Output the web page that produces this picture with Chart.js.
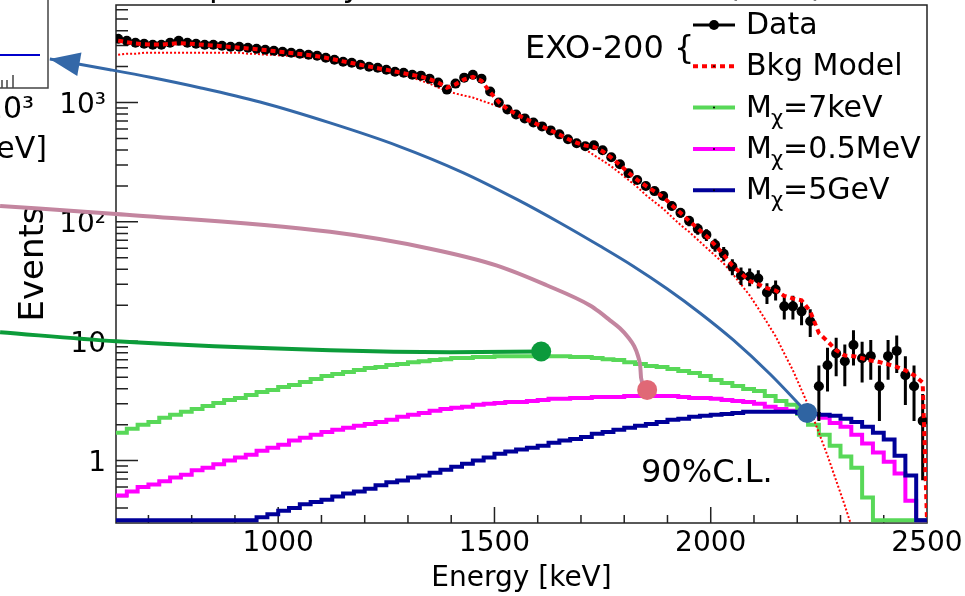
<!DOCTYPE html>
<html>
<head>
<meta charset="utf-8">
<script src="https://cdn.jsdelivr.net/npm/chart.js@4.4.1/dist/chart.umd.min.js"></script>
<style>
  html, body { margin: 0; padding: 0; background: #fff; }
</style>
</head>
<body>
<canvas id="chart" width="965" height="596"></canvas>
<script>
const FONT = "'DejaVu Sans'"

// axis ranges
const xMin = 625, xMax = 2500
const yMin = 0.316, yMax = 6561
const xTickValues = [1000, 1500, 2000, 2500]
const yTickValues = [1, 10, 100, 1000]
const yTickLabels = ['1', '10', '10²', '10³']

// measured spectrum, 20 keV bins (first centre 630 keV)
const dataStart = 630, dataStep = 20
const dataCounts = [
  3415, 3286, 3162, 3102, 3043, 3043, 3162, 3286, 3162, 3102,
  3043, 3043, 2985, 2929, 2929, 2873, 2818, 2765, 2712, 2661,
  2610, 2561, 2512, 2464, 2371, 2282, 2196, 2154, 2073, 1995,
  1957, 1884, 1813, 1778, 1711, 1679, 1585, 1468, 1283, 1440,
  1616, 1711, 1585, 1235, 1000, 874, 794, 736, 681, 631,
  584, 541, 492, 455, 430, 438, 398, 348, 304, 256,
  224, 200, 181, 165, 136, 119, 102, 87.4, 77.9, 64.3,
  54.1, 42.2, 35.5, 34.8, 33.5, 25.6, 27.1, 19.6, 19.6, 17.8,
  14.7, 4.2, 6.3, 7.9, 6.8, 9.3, 7.2, 7.5, 4.2, 7.5,
  8.3, 5.2, 4.2, 2.15
]
const bkgModel = [
  3300, 3200, 3120, 3080, 3060, 3060, 3100, 3150, 3120, 3080,
  3040, 3000, 2960, 2920, 2880, 2840, 2800, 2750, 2700, 2650,
  2600, 2550, 2500, 2440, 2370, 2290, 2210, 2140, 2070, 2000,
  1940, 1880, 1820, 1760, 1700, 1650, 1570, 1470, 1330, 1420,
  1560, 1640, 1520, 1220, 1010, 880, 800, 735, 680, 630,
  585, 540, 495, 460, 435, 425, 390, 345, 300, 258,
  225, 200, 180, 162, 138, 119, 102, 88, 76, 64,
  53, 43, 37, 32, 30, 27.8, 26.6, 24, 22.8, 22,
  17.8, 11.7, 10, 8.4, 7.6, 7.5, 7.2, 6.9, 6.7, 6.4,
  6.1, 5.7, 5.2, 4.5
]
const bkgComponent = [
  2512, 2561, 2561, 2610, 2610, 2610, 2610, 2610, 2610, 2610,
  2610, 2610, 2610, 2610, 2610, 2561, 2561, 2512, 2512, 2464,
  2464, 2417, 2371, 2326, 2282, 2239, 2154, 2113, 2035, 1957,
  1884, 1813, 1745, 1679, 1616, 1525, 1440, 1334, 1259, 1188,
  1143, 1100, 1038, 980, 925, 857, 794, 736, 681, 631,
  584, 541, 492, 447, 405, 362, 326, 292, 256, 224,
  196, 168, 147, 129, 110, 94.4, 82.5, 70.8, 60.8, 52.2,
  44.8, 37.0, 29.9, 24.2, 18.8, 14.4, 11.0, 7.9, 5.7, 3.9,
  2.66, 1.71, 1.10, 0.68, 0.42, 0.25
]

// signal spectra at 90% C.L., 25 keV bins from 625 keV
const histStart = 625, histStep = 25
const sig7keV = [
  1.71, 1.85, 2.00, 2.11, 2.28, 2.42, 2.56, 2.71, 2.87, 3.04,
  3.22, 3.35, 3.55, 3.76, 3.91, 4.14, 4.30, 4.55, 4.82, 5.11,
  5.31, 5.52, 5.73, 5.96, 6.07, 6.31, 6.43, 6.68, 6.81, 6.95,
  7.08, 7.22, 7.22, 7.36, 7.36, 7.50, 7.50, 7.50, 7.50, 7.50,
  7.50, 7.50, 7.36, 7.36, 7.22, 7.08, 6.95, 6.68, 6.43, 6.19,
  6.07, 5.84, 5.62, 5.41, 5.11, 4.73, 4.47, 4.22, 3.98, 3.83,
  3.48, 3.16, 2.93, 2.46, 2.00, 1.65, 1.33, 1.08, 0.87, 0.49,
  0, 0, 0, 0, 0
]
const sig05MeV = [
  0.51, 0.55, 0.60, 0.63, 0.67, 0.72, 0.76, 0.83, 0.87, 0.93,
  1.00, 1.06, 1.12, 1.21, 1.28, 1.36, 1.47, 1.55, 1.65, 1.74,
  1.81, 1.88, 1.96, 2.03, 2.11, 2.20, 2.33, 2.42, 2.51, 2.61,
  2.71, 2.77, 2.82, 2.93, 2.99, 3.04, 3.10, 3.10, 3.16, 3.22,
  3.29, 3.29, 3.35, 3.35, 3.41, 3.41, 3.41, 3.48, 3.48, 3.48,
  3.48, 3.48, 3.41, 3.35, 3.35, 3.29, 3.22, 3.16, 3.10, 2.99,
  2.82, 2.71, 2.61, 2.56, 2.46, 2.28, 2.07, 1.92, 1.65, 1.39,
  1.17, 0.98, 0.78, 0.46, 0
]
const sig5GeV = [
  0, 0, 0, 0, 0, 0, 0, 0, 0, 0,
  0, 0, 0, 0.335, 0.355, 0.38, 0.40, 0.43, 0.45, 0.47,
  0.50, 0.53, 0.55, 0.58, 0.62, 0.66, 0.68, 0.72, 0.75, 0.79,
  0.84, 0.89, 0.94, 1.00, 1.06, 1.14, 1.19, 1.24, 1.28, 1.33,
  1.41, 1.47, 1.52, 1.58, 1.68, 1.74, 1.81, 1.88, 1.96, 2.03,
  2.11, 2.20, 2.24, 2.33, 2.37, 2.42, 2.46, 2.51, 2.56, 2.56,
  2.56, 2.56, 2.56, 2.51, 2.46, 2.42, 2.37, 2.24, 2.11, 1.92,
  1.71, 1.50, 1.10, 0.75, 0
]

// call-out curves [energy keV, events], each starting at its marker
const arrowCurve = [[2223, 2.51], [2137, 5.31], [2052, 10.25], [1975, 17.25], [1899, 27.5], [1820, 42.7],
  [1744, 62.7], [1652, 97.9], [1552, 154.3], [1427, 259], [1275, 436], [1120, 675], [958, 1010],
  [819, 1331], [704, 1628], [611, 1884], [472, 2317]]
const mauveCurve = [[1853, 3.91], [1839, 4.92], [1837, 6.19], [1832, 7.5], [1823, 9.08], [1809, 10.8],
  [1790, 12.83], [1767, 14.96], [1744, 17.45], [1721, 19.95], [1622, 29.3], [1506, 43.0], [1351, 59.6],
  [1120, 82.5], [625, 116.6], [357, 136]]
const greenCurve = [[1608, 8.2], [1397, 8.10], [1120, 8.41], [625, 10.0], [357, 11.9]]
const markerPoints = [[456, 2765], [2223, 2.51], [1608, 8.2], [1853, 3.91]]
const markerColors = ['#2f64a2', '#2f64a2', '#0b9a3c', '#e06876']

const toXY = arr => arr.map(([x, y]) => ({ x, y }))

function histPoints(vals) {
  const pts = vals.map((v, i) => ({ x: histStart + i * histStep, y: v > 0 ? v : yMin }))
  pts.push({ x: histStart + vals.length * histStep, y: pts[pts.length - 1].y })
  return pts
}

const dataPts = dataCounts.map((v, i) => ({ x: dataStart + i * dataStep, y: v }))
const modelPts = bkgModel.map((v, i) => ({ x: dataStart + i * dataStep, y: v }))
modelPts.push({ x: xMax, y: yMin })
const compPts = bkgComponent.map((v, i) => ({ x: dataStart + i * dataStep, y: v }))

// frame and ROOT style inner ticks
const frameTicks = {
  id: 'frameTicks',
  beforeDatasetsDraw(chart) {
    const { ctx, chartArea: a, scales: { x, y } } = chart
    ctx.save()
    ctx.strokeStyle = '#222'
    ctx.lineWidth = 1.5
    ctx.strokeRect(a.left, a.top, a.right - a.left, a.bottom - a.top)
    ctx.beginPath()
    for (let e = 700; e < xMax; e += 100) {
      const px = x.getPixelForValue(e)
      const len = e % 500 === 0 ? 16 : 8
      ctx.moveTo(px, a.bottom)
      ctx.lineTo(px, a.bottom - len)
    }
    for (let d = -1; d <= 3; d++) {
      for (let m = 1; m <= 9; m++) {
        const v = m * Math.pow(10, d)
        if (v < yMin || v > yMax) continue
        const py = y.getPixelForValue(v)
        ctx.moveTo(a.left, py)
        ctx.lineTo(a.left + (m === 1 ? 22 : 12), py)
      }
    }
    ctx.stroke()
    ctx.restore()
  }
}

// poisson error bars (and bin width) on the data points
const errorBars = {
  id: 'errorBars',
  afterDatasetDraw(chart, args) {
    if (chart.data.datasets[args.index].label !== 'Data') return
    const { ctx, chartArea: a, scales: { x, y } } = chart
    ctx.save()
    ctx.beginPath()
    ctx.rect(a.left, a.top, a.right - a.left, a.bottom - a.top)
    ctx.clip()
    ctx.strokeStyle = '#000'
    ctx.lineWidth = 3
    ctx.beginPath()
    dataCounts.forEach((n, i) => {
      const e = dataStart + i * dataStep
      const px = x.getPixelForValue(e)
      const py = y.getPixelForValue(n)
      const err = Math.sqrt(n)
      const lo = n - err > yMin ? y.getPixelForValue(n - err) : a.bottom
      ctx.moveTo(px, lo)
      ctx.lineTo(px, y.getPixelForValue(n + err))
      ctx.moveTo(x.getPixelForValue(e - dataStep / 2), py)
      ctx.lineTo(x.getPixelForValue(e + dataStep / 2), py)
    })
    ctx.stroke()
    ctx.restore()
  }
}

function drawMchi(ctx, label, x, y) {
  // "Mχ=..." with the chi as subscript
  ctx.font = `30px ${FONT}`
  ctx.fillText('M', x, y)
  let cx = x + ctx.measureText('M').width
  ctx.font = `21px ${FONT}`
  ctx.fillText('χ', cx - 1, y + 8)
  cx += ctx.measureText('χ').width - 1
  ctx.font = `30px ${FONT}`
  ctx.fillText(label.slice(2), cx, y)
}

// legend, labels, arrow head and the clipped neighbour panel
const overlay = {
  id: 'overlay',
  afterDraw(chart) {
    const { ctx, chartArea: a, scales: { x, y } } = chart
    ctx.save()
    ctx.fillStyle = '#000'
    ctx.textBaseline = 'alphabetic'

    // cut-off title above the frame
    ctx.font = `32px ${FONT}`
    const title = 'Dark matter spectra by EXO-200 detector, UL (90%)'
    const tx = 212 - ctx.measureText('Dark matter s').width - 3
    ctx.fillText(title, tx, -4)

    // legend
    const items = chart.data.datasets.filter(d => d.label)
    const lx0 = a.right - 234, lx1 = a.right - 192, tx0 = a.right - 181
    items.forEach((d, i) => {
      const cy = a.top + 20 + i * 41.3
      ctx.save()
      if (d.label === 'Data') {
        ctx.strokeStyle = '#000'
        ctx.lineWidth = 3
      } else {
        ctx.strokeStyle = d.borderColor
        ctx.lineWidth = d.borderWidth
        ctx.setLineDash(d.borderDash || [])
      }
      ctx.beginPath()
      ctx.moveTo(lx0, cy)
      ctx.lineTo(lx1, cy)
      ctx.stroke()
      ctx.fillStyle = '#000'
      ctx.beginPath()
      ctx.arc((lx0 + lx1) / 2, cy, d.label === 'Data' ? 5 : 1, 0, Math.PI * 2)
      ctx.fill()
      ctx.restore()
      if (d.label.startsWith('Mχ')) drawMchi(ctx, d.label, tx0, cy + 9)
      else {
        ctx.font = `30px ${FONT}`
        ctx.fillText(d.label, tx0, cy + 9)
      }
    })

    ctx.font = `32px ${FONT}`
    ctx.fillText('EXO-200 {', a.left + 409, a.top + 53)
    ctx.fillText('90%C.L.', a.left + 525, a.top + 477)

    // arrow head at the end of the blue call-out
    const n = arrowCurve.length
    const tip = [x.getPixelForValue(arrowCurve[n - 1][0]), y.getPixelForValue(arrowCurve[n - 1][1])]
    const prev = [x.getPixelForValue(arrowCurve[n - 2][0]), y.getPixelForValue(arrowCurve[n - 2][1])]
    let dx = prev[0] - tip[0], dy = prev[1] - tip[1]
    const len = Math.hypot(dx, dy)
    dx /= len; dy /= len
    ctx.fillStyle = '#3468a8'
    ctx.beginPath()
    ctx.moveTo(tip[0], tip[1])
    ctx.lineTo(tip[0] + dx * 30 - dy * 12, tip[1] + dy * 30 + dx * 12)
    ctx.lineTo(tip[0] + dx * 30 + dy * 12, tip[1] + dy * 30 - dx * 12)
    ctx.closePath()
    ctx.fill()

    // right edge of the neighbouring panel
    const ix = a.left - 68, iy = 88
    ctx.strokeStyle = '#444'
    ctx.lineWidth = 1.5
    ctx.beginPath()
    ctx.moveTo(ix, 0); ctx.lineTo(ix, iy); ctx.lineTo(0, iy)
    ctx.moveTo(13, iy); ctx.lineTo(13, iy - 13)
    ctx.moveTo(7, iy); ctx.lineTo(7, iy - 8)
    ctx.moveTo(2, iy); ctx.lineTo(2, iy - 8)
    ctx.stroke()
    ctx.strokeStyle = '#0000cc'
    ctx.lineWidth = 2
    ctx.beginPath()
    ctx.moveTo(0, 55); ctx.lineTo(ix - 8, 55)
    ctx.stroke()
    ctx.fillStyle = '#000'
    ctx.textAlign = 'right'
    ctx.font = `30px ${FONT}`
    ctx.fillText('10³', 34, 118)
    ctx.fillText('[keV]', 47, 158)
    ctx.restore()
  }
}

Chart.defaults.font.family = FONT
Chart.defaults.color = '#000'

const histStyle = (color, order) => ({
  borderColor: color, borderWidth: 4, pointRadius: 0, stepped: true, fill: false,
  clip: { left: 0, top: 0, right: 0, bottom: 2 }, order
})
const curveStyle = (color, width, order) => ({
  borderColor: color, borderWidth: width, pointRadius: 0, cubicInterpolationMode: 'monotone',
  clip: false, order
})

new Chart(document.getElementById('chart'), {
  type: 'line',
  data: {
    datasets: [
      { label: 'Data', data: dataPts, showLine: false, pointRadius: 5, pointBackgroundColor: '#000',
        pointBorderColor: '#000', pointBorderWidth: 0, borderColor: '#000', order: 6 },
      { label: 'Bkg Model', data: modelPts, borderColor: '#ff0000', borderWidth: 4, borderDash: [5, 4],
        pointRadius: 0, order: 5 },
      { label: 'Mχ=7keV', data: histPoints(sig7keV), ...histStyle('#58d858', 9) },
      { label: 'Mχ=0.5MeV', data: histPoints(sig05MeV), ...histStyle('#ff00ff', 10) },
      { label: 'Mχ=5GeV', data: histPoints(sig5GeV), ...histStyle('#000099', 8) },
      { data: compPts, borderColor: '#ff0000', borderWidth: 2, borderDash: [2, 2], pointRadius: 0, order: 7 },
      { data: toXY(arrowCurve), ...curveStyle('#3468a8', 3, 2) },
      { data: toXY(mauveCurve), ...curveStyle('#c3859f', 4, 3) },
      { data: toXY(greenCurve), ...curveStyle('#0c9c3a', 4, 3) },
      { data: toXY(markerPoints), showLine: false, pointRadius: 10, pointBorderWidth: 0,
        pointBackgroundColor: markerColors, clip: false, order: 0 }
    ]
  },
  options: {
    responsive: false,
    devicePixelRatio: 1,
    animation: false,
    events: [],
    layout: { autoPadding: false, padding: { top: 5, right: 38, left: 0, bottom: 0 } },
    plugins: { legend: { display: false }, tooltip: { enabled: false } },
    scales: {
      x: {
        type: 'linear', min: xMin, max: xMax,
        afterFit: s => { s.height = 73; s.paddingLeft = 0; s.paddingRight = 0 },
        afterBuildTicks: s => { s.ticks = xTickValues.map(v => ({ value: v })) },
        grid: { display: false, drawTicks: false },
        border: { display: false },
        ticks: { font: { size: 28 }, padding: 4, maxRotation: 0, autoSkip: false, callback: v => String(v) },
        title: { display: true, text: 'Energy [keV]', font: { size: 28 }, padding: { bottom: 0 } }
      },
      y: {
        type: 'logarithmic', min: yMin, max: yMax,
        afterFit: s => { s.width = 116; s.paddingTop = 0; s.paddingBottom = 0 },
        afterBuildTicks: s => { s.ticks = yTickValues.map(v => ({ value: v })) },
        grid: { display: false, drawTicks: false },
        border: { display: false },
        ticks: { font: { size: 28 }, padding: 10, labelOffset: 3,
          callback: v => yTickLabels[yTickValues.indexOf(v)] ?? '' },
        title: { display: true, text: 'Events', font: { size: 34 }, padding: { top: 14 } }
      }
    }
  },
  plugins: [frameTicks, errorBars, overlay]
})
</script>
</body>
</html>
